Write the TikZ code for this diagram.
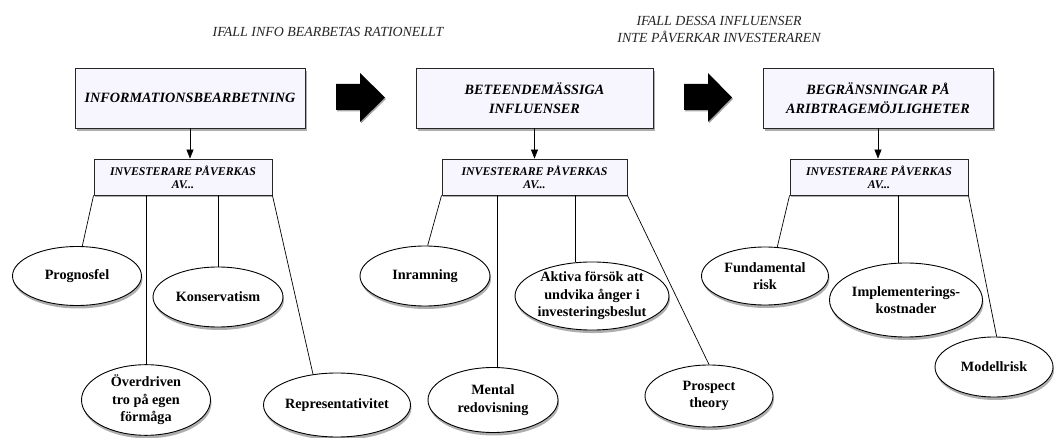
\documentclass[tikz,border=0pt]{standalone}
\usepackage{fontspec}
\setmainfont{Liberation Serif}
\usetikzlibrary{shapes.geometric,shadows,arrows.meta,calc}
\definecolor{boxfill}{HTML}{F7F6FF}
\tikzset{
  topbox/.style={draw=black!85, line width=0.9pt, fill=boxfill, minimum width=230pt, minimum height=60pt,
     align=center, font=\fontsize{14.2}{19}\selectfont\bfseries\itshape,
     drop shadow={shadow xshift=1.5pt, shadow yshift=-3pt, opacity=0.45, fill=black!70}},
  subbox/.style={draw=black!85, line width=0.9pt, fill=boxfill, minimum height=36pt,
     align=center, font=\fontsize{11.8}{13}\selectfont\bfseries\itshape, inner sep=0pt,
     drop shadow={shadow xshift=1pt, shadow yshift=-2.5pt, opacity=0.45, fill=black!70}},
  oval/.style={ellipse, draw=black, line width=0.9pt, fill=white, inner sep=0pt, align=center,
     font=\fontsize{14.2}{17.5}\selectfont\bfseries,
     drop shadow={shadow xshift=1pt, shadow yshift=-3pt, opacity=0.45, fill=black!70}},
  title/.style={align=center, font=\fontsize{13.9}{17}\selectfont\itshape, text=black!85},
  link/.style={draw=black, line width=0.7pt},
  down/.style={draw=black, line width=0.7pt, -{Triangle[length=9pt,width=7pt]}},
  bigarrow/.style={fill=black, draw=none, drop shadow={shadow xshift=1pt, shadow yshift=-1.5pt, opacity=0.35, fill=black}}
}
\begin{document}
\begin{tikzpicture}[x=1pt,y=-1pt]
\useasboundingbox[fill=white] (0,0) rectangle (1061,438);

% titles
\node[title] (t1) at (328,32) {IFALL INFO BEARBETAS RATIONELLT};
\node[title] (t2) at (719,29.5) {IFALL DESSA INFLUENSER\\INTE PÅVERKAR INVESTERAREN};

% top boxes
\node[topbox] (b1) at (190,98) {INFORMATIONSBEARBETNING};
\node[topbox, minimum width=237pt] (b2) at (534.5,98) {BETEENDEMÄSSIGA\\INFLUENSER};
\node[topbox] (b3) at (878,98) {BEGRÄNSNINGAR PÅ\\ARIBTRAGEMÖJLIGHETER};

% big arrows
\fill[bigarrow] (336,84) -- (360,84) -- (360,73) -- (385,97.5) -- (360,122) -- (360,110) -- (336,110) -- cycle;
\fill[bigarrow] (684,84) -- (708,84) -- (708,73) -- (732,97.5) -- (708,122) -- (708,110) -- (684,110) -- cycle;

% sub boxes
\node[subbox, minimum width=178pt] (s1) at (183,177) {INVESTERARE PÅVERKAS\\AV...};
\node[subbox, minimum width=185pt] (s2) at (534.5,177) {INVESTERARE PÅVERKAS\\AV...};
\node[subbox, minimum width=178pt] (s3) at (879,177) {INVESTERARE PÅVERKAS\\AV...};

\draw[down] (b1.south) -- (b1.south |- s1.north);
\draw[down] (b2.south) -- (b2.south |- s2.north);
\draw[down] (b3.south) -- (b3.south |- s3.north);

% ellipses group 1
\node[oval, minimum width=129pt, minimum height=59pt] (e11) at (77,276) {Prognosfel};
\node[oval, minimum width=130pt, minimum height=60pt] (e12) at (218,297) {Konservatism};
\node[oval, minimum width=129pt, minimum height=66pt] (e13) at (146,400) {Överdriven\\tro på egen\\förmåga};
\node[oval, minimum width=147pt, minimum height=64pt] (e14) at (337,405) {Representativitet};

% ellipses group 2
\node[oval, minimum width=130pt, minimum height=60pt] (e21) at (425,276) {Inramning};
\node[oval, minimum width=130pt, minimum height=65pt] (e22) at (493,400) {Mental\\redovisning};
\node[oval, minimum width=146pt, minimum height=66pt] (e23) at (592,296) {Aktiva försök att\\undvika ånger i\\investeringsbeslut};
\node[oval, minimum width=128pt, minimum height=62pt] (e24) at (709,396) {Prospect\\theory};

% ellipses group 3
\node[oval, minimum width=127pt, minimum height=58pt] (e31) at (765,276) {Fundamental\\risk};
\node[oval, minimum width=153pt, minimum height=74pt] (e32) at (906,300) {Implementerings-\\kostnader};
\node[oval, minimum width=118pt, minimum height=60pt] (e33) at (994,367) {Modellrisk};

% connectors group 1
\draw[link] (s1.south west) -- (e11.80);
\draw[link] (e13.north |- s1.south) -- (e13.north);
\draw[link] (e12.north |- s1.south) -- (e12.north);
\draw[link] (s1.south east) -- (e14.128);

% connectors group 2
\draw[link] (s2.south west) -- (e21.85);
\draw[link] ([xshift=4pt]e22.north |- s2.south) -- ([xshift=4pt]e22.north);
\draw[link] ([xshift=-17pt]e23.north |- s2.south) -- ([xshift=-17pt]e23.north);
\draw[link] (s2.south east) -- (e24.north);

% connectors group 3
\draw[link] (s3.south west) -- (e31.67);
\draw[link] ([xshift=-8pt]e32.north |- s3.south) -- ([xshift=-8pt]e32.north);
\draw[link] (s3.south east) -- (e33.85);
\end{tikzpicture}
\end{document}
